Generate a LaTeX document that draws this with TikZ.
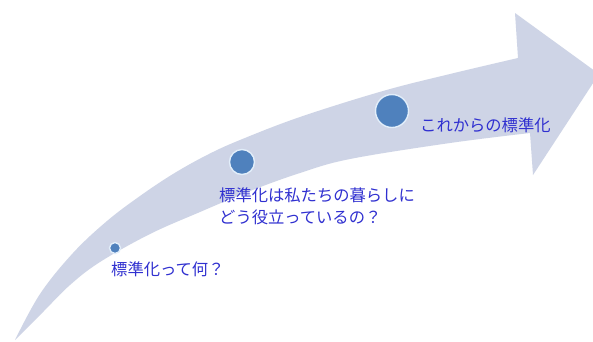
\documentclass[tikz,border=0pt]{standalone}
\usepackage{fontspec}
\newfontfamily\jpfont{Noto Sans CJK JP}
\definecolor{arrowfill}{RGB}{206,212,230}
\definecolor{dotfill}{RGB}{79,129,189}
\definecolor{dotedge}{RGB}{226,238,250}
\definecolor{labelblue}{RGB}{48,48,208}
\tikzset{
  dot/.style={circle, fill=dotfill, draw=dotedge, line width=1.4pt, inner sep=0pt},
  lbl/.style={anchor=west, inner sep=0pt, text=labelblue, font=\jpfont\fontsize{16.3}{22}\selectfont, align=left},
}
\begin{document}
\begin{tikzpicture}[x=1pt, y=-1pt]
\useasboundingbox (0,0) rectangle (593,341);
\fill[white] (0,0) rectangle (593,341);
\clip (0,0) rectangle (593,341);
% big curved arrow
\fill[arrowfill]
  plot[smooth, tension=0.6] coordinates {(15,340) (40,294) (73,253) (107,221) (140,196) (173,174) (207,155) (240,140) (300,117) (383,91) (450,74) (518,58)}
  -- (515,13) -- (599,74) -- (533,175) -- (530,133)
  -- plot[smooth, tension=0.6] coordinates {(530,133) (450,143) (350,159) (300,173) (250,191) (200,212) (150,234) (100,262) (70,285) (43,312) (15,340)}
  -- cycle;
% milestones
\node[dot, minimum size=11pt] (c1) at (115,248) {};
\node[dot, minimum size=25pt] (c2) at (242,162) {};
\node[dot, minimum size=33pt] (c3) at (392,111) {};
% labels
\node[lbl] (t1) at (111,269) {標準化って何？};
\node[lbl] (t2) at (219,206) {標準化は私たちの暮らしに\\どう役立っているの？};
\node[lbl] (t3) at (420,125) {これからの標準化};
\end{tikzpicture}
\end{document}
